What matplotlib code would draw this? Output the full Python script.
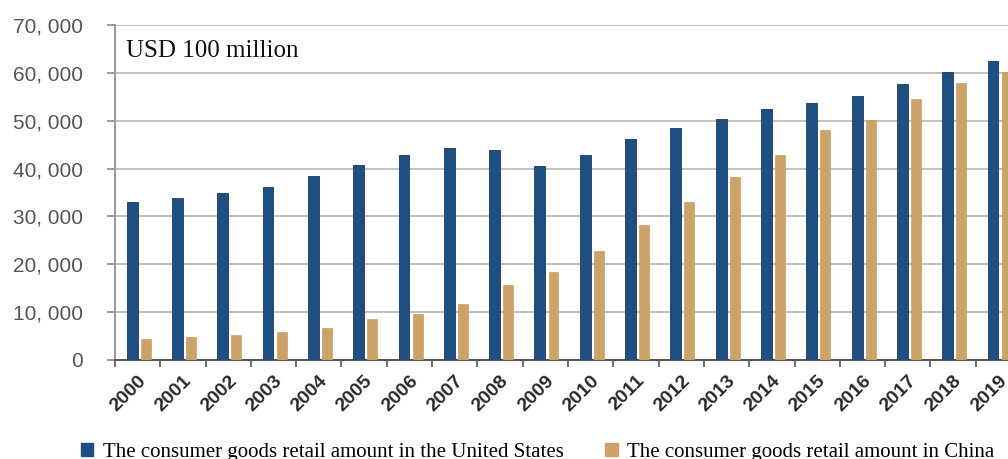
import numpy as np
import matplotlib.pyplot as plt
from matplotlib.patches import Patch
from matplotlib.ticker import FuncFormatter

years = [str(y) for y in range(2000, 2020)]
us_retail = [33000, 33800, 34800, 36200, 38500, 40800, 42900, 44300, 43800, 40600,
             42900, 46100, 48400, 50300, 52400, 53600, 55100, 57600, 60100, 62400]
china_retail = [4300, 4800, 5200, 5800, 6700, 8500, 9700, 11800, 15700, 18400,
                22800, 28200, 33000, 38200, 42800, 48000, 50100, 54500, 57800, 60100]
legend_labels = ["The consumer goods retail amount in the United States",
                 "The consumer goods retail amount in China"]

blue = "#1f4f82"
tan = "#cda266"

fig = plt.figure(figsize=(10.08, 4.59), dpi=100)
ax = fig.add_axes([0.114, 0.2157, 0.899, 0.7298])

x = np.arange(len(years))
ax.bar(x - 0.12, us_retail, width=0.24, color=blue, edgecolor="#17395e", linewidth=0.6, zorder=3)
ax.bar(x + 0.18, china_retail, width=0.22, color=tan, edgecolor="#c09458", linewidth=0.4, zorder=3)

ax.set_xlim(-0.5, len(years) - 0.5)
ax.set_ylim(0, 70000)
ax.set_yticks(np.arange(0, 70001, 10000))
ax.yaxis.set_major_formatter(FuncFormatter(lambda v, p: "0" if v == 0 else f"{int(v):,}".replace(",", ", ")))
ax.yaxis.grid(True, color="#c2c2c2", linewidth=1.4, zorder=0)

ax.set_xticks(x)
ax.set_xticklabels(years, rotation=45, ha="right", rotation_mode="anchor",
                   fontsize=14, color="#2a2a2a", fontweight="bold", family="Liberation Sans")
ax.tick_params(axis="x", which="major", length=0, pad=9)
ax.set_xticks(np.arange(-0.5, len(years), 1.0), minor=True)
ax.tick_params(axis="x", which="minor", length=5, width=1.2, color="#555555")
ax.tick_params(axis="y", length=6, width=1.2, color="#888888", pad=17,
               labelsize=15, labelcolor="#555555")
for lbl in ax.get_yticklabels():
    lbl.set_family("Liberation Sans")

for s in ["top", "right"]:
    ax.spines[s].set_visible(False)
ax.spines["left"].set_color("#999999")
ax.spines["left"].set_linewidth(1.4)
ax.spines["bottom"].set_color("#555555")
ax.spines["bottom"].set_linewidth(1.4)

ax.text(0.012, 0.955, "USD 100 million", transform=ax.transAxes, ha="left", va="top",
        fontsize=18, family="Liberation Serif", color="#111111")

handles = [Patch(facecolor=blue, edgecolor=blue), Patch(facecolor=tan, edgecolor=tan)]
fig.legend(handles, legend_labels, loc="lower left", bbox_to_anchor=(0.080, -0.006), ncol=2,
           frameon=False, prop={"family": "Liberation Serif", "size": 15},
           handlelength=0.6, handleheight=0.6, handletextpad=0.45, columnspacing=2.0,
           borderpad=0, borderaxespad=0)

fig.savefig("out.png", dpi=100)
